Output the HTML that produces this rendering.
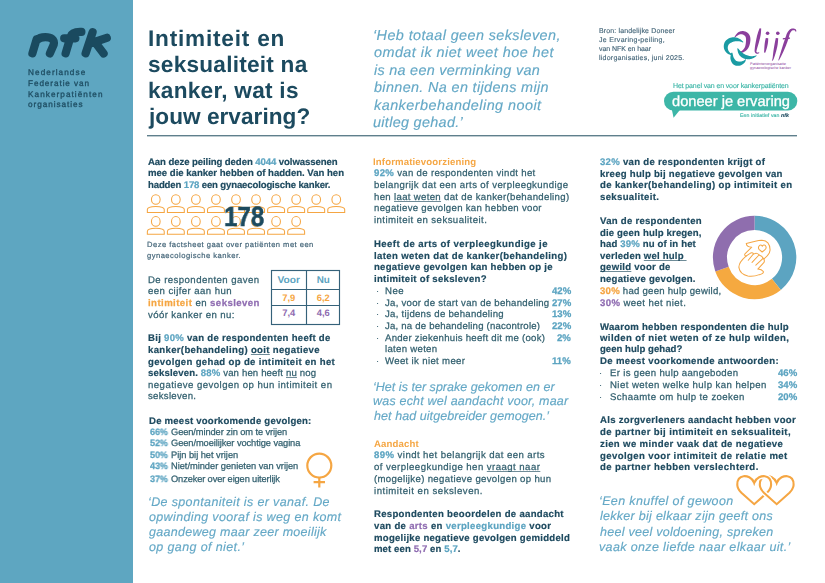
<!DOCTYPE html>
<html><head><meta charset="utf-8"><title>Intimiteit en seksualiteit na kanker</title>
<style>
html,body{margin:0;padding:0;background:#fff;}
#page{position:relative;width:825px;height:583px;overflow:hidden;background:#fff;font-family:"Liberation Sans",sans-serif;}
#gfx{position:absolute;left:0;top:0;text-rendering:geometricPrecision;}
.l{position:absolute;white-space:nowrap;font-family:"Liberation Sans",sans-serif;will-change:transform;text-rendering:geometricPrecision;}
.side{color:#1e4d62;-webkit-text-stroke-width:0.3px;}
.title{font-weight:bold;color:#1c4a5f;}
.q{font-style:italic;color:#64a8c6;-webkit-text-stroke-width:0.15px;}
.bron{color:#46677a;-webkit-text-stroke-width:0.15px;}
.teal{color:#3db6a7;-webkit-text-stroke-width:0.15px;}
.white{color:#fff;-webkit-text-stroke-width:0.3px;}
.bold{font-weight:bold;color:#1f4b60;-webkit-text-stroke-width:0.2px;}
.reg{color:#33606f;-webkit-text-stroke-width:0.25px;}
.gray{color:#46677a;-webkit-text-stroke-width:0.2px;}
.bigno{font-weight:bold;color:#1c4a5f;-webkit-text-stroke-width:0.5px;}
.pct,.pctr{font-weight:bold;color:#5ca4c1;-webkit-text-stroke-width:0.25px;}
.orange{font-weight:bold;color:#f5a643;}
.dot{color:#35606f;}
.cb{color:#5ca4c1;}
.co{color:#f5a643;}
.cp{color:#8f6cb1;}
.reg .co,.reg .cp,.reg .cb{font-weight:bold;}
.u{text-decoration:underline;text-decoration-thickness:0.7px;text-underline-offset:0.6px;text-decoration-color:#6f8c98;text-decoration-skip-ink:none;}
.rg{font-weight:normal;color:#33606f;-webkit-text-stroke-width:0.25px;}
.bd{font-weight:bold;font-style:italic;color:#1c4a5f;}

</style></head><body>
<div id="page">
<svg id="gfx" width="825" height="583" viewBox="0 0 825 583">
<rect x="0" y="0" width="133" height="583" fill="#5ea6c1"/>
<g fill="none" stroke="#1a4a5f" stroke-width="8.2" stroke-linecap="round" stroke-linejoin="round">
<path d="M32.4 53.4 L36.6 39.4 M36.8 40.2 C39 37.8 42 37.1 45.4 37.1 C51 37.1 54.8 39.4 53.7 44.6 L49.9 53.4"/>
<path d="M65.6 53.4 L70.6 36.6 C71.8 32.6 75 31.6 81.4 31.9 M64.2 38.3 L75.4 38.3"/>
<path d="M85.6 53.4 L92.6 32.2 M91.5 43 L106.8 37.8 M96.8 44.5 L103.6 53.4"/>
</g>
<rect x="147" y="135" width="650" height="1.4" fill="#5f7f8c"/>
<!--olijf-->
<path d="M734.71 37.61 L734.94 37.44 L735.22 37.22 L735.55 36.96 L735.92 36.67 L736.31 36.35 L736.72 36.03 L737.15 35.72 L737.58 35.41 L738.00 35.14 L738.39 34.91 L738.75 34.73 L739.06 34.60 L739.38 34.51 L739.71 34.42 L740.04 34.35 L740.37 34.30 L740.69 34.26 L741.00 34.25 L741.31 34.25 L741.61 34.27 L741.89 34.30 L742.16 34.35 L742.41 34.42 L742.65 34.50 L742.90 34.60 L743.17 34.73 L743.46 34.87 L743.75 35.04 L744.04 35.22 L744.31 35.42 L744.58 35.62 L744.82 35.83 L745.03 36.04 L745.21 36.24 L745.34 36.43 L745.45 36.59 L745.54 36.77 L745.63 36.98 L745.71 37.21 L745.78 37.47 L745.85 37.75 L745.90 38.06 L745.95 38.40 L745.99 38.75 L746.01 39.13 L746.03 39.53 L746.03 39.95 L746.02 40.39 L746.01 40.85 L745.98 41.36 L745.94 41.90 L745.89 42.47 L745.82 43.06 L745.75 43.64 L745.66 44.23 L745.56 44.80 L745.46 45.34 L745.34 45.85 L745.21 46.31 L745.08 46.72 L744.94 47.10 L744.76 47.48 L744.54 47.86 L744.31 48.24 L744.04 48.61 L743.77 48.97 L743.47 49.32 L743.17 49.66 L742.87 49.97 L742.57 50.27 L742.28 50.53 L742.02 50.76 L741.79 50.95 L741.55 51.10 L741.27 51.23 L740.98 51.35 L740.67 51.44 L740.36 51.52 L740.04 51.58 L739.74 51.63 L739.45 51.68 L739.19 51.72 L738.95 51.76 L738.76 51.80 L738.84 52.60 L739.00 52.61 L739.21 52.64 L739.46 52.67 L739.75 52.72 L740.08 52.76 L740.43 52.80 L740.82 52.82 L741.22 52.82 L741.65 52.79 L742.09 52.72 L742.54 52.60 L742.98 52.44 L743.39 52.25 L743.81 52.04 L744.24 51.81 L744.69 51.54 L745.14 51.25 L745.60 50.93 L746.05 50.57 L746.50 50.19 L746.94 49.77 L747.36 49.31 L747.75 48.81 L748.12 48.28 L748.44 47.71 L748.74 47.11 L749.02 46.48 L749.27 45.83 L749.49 45.16 L749.69 44.48 L749.87 43.80 L750.02 43.13 L750.15 42.46 L750.25 41.82 L750.32 41.20 L750.38 40.61 L750.41 40.05 L750.42 39.49 L750.40 38.93 L750.37 38.38 L750.31 37.83 L750.22 37.29 L750.10 36.75 L749.95 36.22 L749.76 35.70 L749.54 35.18 L749.27 34.69 L748.95 34.21 L748.58 33.74 L748.17 33.32 L747.74 32.95 L747.28 32.61 L746.81 32.31 L746.32 32.04 L745.83 31.81 L745.33 31.60 L744.83 31.43 L744.34 31.29 L743.84 31.18 L743.35 31.10 L742.86 31.06 L742.37 31.05 L741.88 31.08 L741.40 31.14 L740.93 31.23 L740.47 31.35 L740.02 31.50 L739.58 31.67 L739.15 31.87 L738.74 32.09 L738.34 32.33 L737.94 32.60 L737.52 32.92 L737.12 33.30 L736.75 33.72 L736.39 34.16 L736.04 34.61 L735.71 35.07 L735.41 35.51 L735.12 35.94 L734.86 36.33 L734.64 36.68 L734.44 36.97 L734.29 37.19 Z" fill="#8b3f9c"/>
<path d="M743.34 41.94 L743.16 41.77 L742.93 41.55 L742.66 41.28 L742.35 40.98 L742.01 40.65 L741.63 40.31 L741.23 39.95 L740.81 39.60 L740.35 39.26 L739.88 38.95 L739.37 38.66 L738.86 38.41 L738.36 38.21 L737.85 38.02 L737.32 37.85 L736.77 37.69 L736.21 37.55 L735.63 37.43 L735.03 37.34 L734.43 37.28 L733.82 37.25 L733.21 37.26 L732.59 37.30 L731.97 37.39 L731.38 37.51 L730.79 37.67 L730.20 37.86 L729.61 38.08 L729.04 38.33 L728.47 38.62 L727.92 38.93 L727.39 39.28 L726.88 39.65 L726.39 40.06 L725.93 40.50 L725.51 40.98 L725.13 41.50 L724.81 42.04 L724.54 42.60 L724.31 43.16 L724.13 43.73 L723.99 44.30 L723.88 44.87 L723.81 45.43 L723.77 45.99 L723.77 46.54 L723.79 47.08 L723.85 47.61 L723.94 48.16 L724.08 48.70 L724.26 49.23 L724.47 49.73 L724.70 50.22 L724.96 50.69 L725.24 51.13 L725.53 51.56 L725.83 51.96 L726.15 52.34 L726.47 52.70 L726.81 53.04 L727.20 53.37 L727.63 53.67 L728.07 53.93 L728.51 54.14 L728.96 54.33 L729.39 54.50 L729.81 54.64 L730.20 54.77 L730.55 54.88 L730.86 54.97 L731.11 55.05 L731.30 55.12 L731.90 54.08 L731.71 53.93 L731.47 53.76 L731.20 53.57 L730.90 53.36 L730.58 53.13 L730.26 52.89 L729.94 52.64 L729.64 52.37 L729.36 52.11 L729.12 51.85 L728.93 51.60 L728.79 51.36 L728.65 51.08 L728.50 50.76 L728.35 50.42 L728.21 50.07 L728.09 49.71 L727.98 49.34 L727.89 48.97 L727.82 48.62 L727.77 48.27 L727.74 47.95 L727.74 47.66 L727.75 47.39 L727.79 47.10 L727.84 46.78 L727.91 46.45 L728.00 46.12 L728.10 45.80 L728.21 45.48 L728.34 45.17 L728.48 44.88 L728.63 44.62 L728.78 44.39 L728.94 44.19 L729.09 44.02 L729.27 43.85 L729.49 43.66 L729.76 43.46 L730.07 43.25 L730.41 43.04 L730.77 42.83 L731.14 42.63 L731.53 42.44 L731.92 42.26 L732.30 42.09 L732.68 41.94 L733.03 41.81 L733.37 41.70 L733.73 41.60 L734.13 41.51 L734.55 41.43 L734.98 41.36 L735.44 41.30 L735.90 41.26 L736.36 41.22 L736.82 41.20 L737.28 41.19 L737.73 41.19 L738.14 41.19 L738.53 41.21 L738.95 41.26 L739.40 41.34 L739.87 41.45 L740.34 41.58 L740.82 41.72 L741.28 41.87 L741.71 42.01 L742.12 42.15 L742.48 42.28 L742.80 42.39 L743.06 42.46 Z" fill="#1a9ba3"/>
<path d="M731.20 52.83 L731.15 53.10 L731.07 53.44 L730.98 53.86 L730.87 54.33 L730.76 54.85 L730.65 55.41 L730.55 55.99 L730.47 56.59 L730.42 57.20 L730.40 57.82 L730.42 58.43 L730.50 59.02 L730.60 59.55 L730.73 60.06 L730.88 60.58 L731.06 61.09 L731.27 61.59 L731.51 62.09 L731.79 62.58 L732.09 63.05 L732.44 63.50 L732.82 63.93 L733.25 64.33 L733.73 64.71 L734.26 65.03 L734.81 65.29 L735.37 65.49 L735.92 65.64 L736.48 65.75 L737.03 65.81 L737.56 65.84 L738.09 65.84 L738.60 65.81 L739.10 65.75 L739.57 65.68 L740.05 65.58 L740.54 65.45 L741.02 65.28 L741.48 65.07 L741.90 64.84 L742.30 64.59 L742.68 64.33 L743.03 64.06 L743.36 63.79 L743.67 63.51 L743.95 63.23 L744.21 62.97 L744.46 62.70 L744.71 62.41 L744.94 62.10 L745.14 61.79 L745.31 61.47 L745.45 61.17 L745.58 60.87 L745.69 60.59 L745.78 60.33 L745.86 60.09 L745.93 59.89 L745.98 59.72 L746.04 59.58 L745.56 59.22 L745.43 59.32 L745.28 59.45 L745.12 59.60 L744.93 59.76 L744.73 59.93 L744.52 60.11 L744.30 60.28 L744.07 60.44 L743.84 60.59 L743.60 60.71 L743.38 60.81 L743.14 60.90 L742.87 60.99 L742.57 61.10 L742.25 61.20 L741.93 61.30 L741.60 61.39 L741.27 61.47 L740.94 61.53 L740.63 61.59 L740.33 61.62 L740.05 61.64 L739.80 61.64 L739.55 61.62 L739.27 61.59 L738.95 61.56 L738.61 61.52 L738.28 61.47 L737.95 61.42 L737.62 61.35 L737.32 61.28 L737.04 61.20 L736.79 61.12 L736.58 61.04 L736.40 60.97 L736.27 60.89 L736.13 60.80 L735.96 60.67 L735.77 60.51 L735.57 60.31 L735.35 60.08 L735.14 59.82 L734.92 59.54 L734.70 59.25 L734.49 58.94 L734.28 58.61 L734.08 58.29 L733.90 57.98 L733.74 57.68 L733.58 57.31 L733.43 56.88 L733.28 56.39 L733.13 55.88 L733.00 55.35 L732.88 54.83 L732.76 54.33 L732.66 53.86 L732.56 53.43 L732.48 53.06 L732.40 52.77 Z" fill="#1a9ba3"/>
<path d="M737.24 48.58 L737.29 48.85 L737.35 49.18 L737.42 49.59 L737.49 50.05 L737.58 50.54 L737.69 51.07 L737.81 51.62 L737.96 52.18 L738.13 52.73 L738.34 53.28 L738.57 53.81 L738.84 54.29 L739.12 54.73 L739.40 55.13 L739.70 55.53 L740.03 55.91 L740.37 56.27 L740.74 56.62 L741.12 56.95 L741.53 57.26 L741.95 57.55 L742.39 57.82 L742.84 58.06 L743.32 58.29 L743.82 58.49 L744.34 58.67 L744.86 58.82 L745.39 58.94 L745.93 59.04 L746.46 59.12 L746.98 59.18 L747.50 59.21 L748.00 59.24 L748.49 59.24 L748.95 59.23 L749.40 59.21 L749.85 59.18 L750.29 59.12 L750.72 59.04 L751.12 58.95 L751.50 58.84 L751.87 58.72 L752.22 58.60 L752.55 58.46 L752.87 58.32 L753.17 58.18 L753.47 58.04 L753.76 57.90 L754.08 57.73 L754.39 57.55 L754.70 57.36 L754.99 57.16 L755.28 56.96 L755.54 56.75 L755.79 56.56 L756.03 56.37 L756.24 56.20 L756.42 56.05 L756.58 55.92 L756.71 55.83 L756.49 55.37 L756.33 55.42 L756.12 55.47 L755.89 55.54 L755.63 55.61 L755.35 55.69 L755.06 55.77 L754.75 55.85 L754.44 55.92 L754.12 55.99 L753.82 56.04 L753.52 56.08 L753.24 56.10 L752.94 56.13 L752.63 56.15 L752.32 56.17 L752.01 56.19 L751.71 56.20 L751.41 56.20 L751.11 56.19 L750.81 56.18 L750.51 56.15 L750.21 56.11 L749.91 56.05 L749.60 55.99 L749.25 55.91 L748.87 55.81 L748.47 55.71 L748.07 55.60 L747.65 55.48 L747.24 55.36 L746.84 55.23 L746.44 55.09 L746.07 54.95 L745.71 54.80 L745.38 54.66 L745.08 54.51 L744.79 54.36 L744.50 54.19 L744.20 54.01 L743.91 53.82 L743.62 53.63 L743.33 53.43 L743.03 53.22 L742.74 53.01 L742.44 52.79 L742.14 52.56 L741.84 52.33 L741.56 52.11 L741.28 51.88 L740.98 51.60 L740.65 51.27 L740.31 50.90 L739.96 50.52 L739.61 50.13 L739.27 49.74 L738.95 49.36 L738.65 49.01 L738.38 48.70 L738.15 48.43 L737.96 48.22 Z" fill="#1a9ba3"/>
<path d="M759.62 28.23 L759.52 28.49 L759.39 28.81 L759.25 29.17 L759.09 29.59 L758.92 30.04 L758.74 30.52 L758.55 31.02 L758.36 31.54 L758.17 32.07 L757.99 32.61 L757.82 33.14 L757.65 33.66 L757.49 34.18 L757.34 34.72 L757.19 35.28 L757.04 35.85 L756.90 36.44 L756.77 37.03 L756.64 37.63 L756.51 38.24 L756.38 38.84 L756.26 39.45 L756.14 40.05 L756.02 40.64 L755.91 41.23 L755.79 41.84 L755.67 42.47 L755.56 43.10 L755.44 43.74 L755.33 44.37 L755.23 44.99 L755.13 45.60 L755.04 46.19 L754.96 46.75 L754.89 47.29 L754.83 47.78 L754.79 48.22 L754.75 48.64 L754.71 49.04 L754.67 49.41 L754.64 49.77 L754.62 50.12 L754.61 50.45 L754.61 50.77 L754.62 51.09 L754.65 51.39 L754.71 51.70 L754.78 52.00 L754.89 52.29 L755.04 52.57 L755.21 52.81 L755.40 53.02 L755.60 53.20 L755.82 53.35 L756.03 53.48 L756.25 53.58 L756.46 53.66 L756.67 53.72 L756.87 53.77 L757.09 53.81 L757.34 53.82 L757.60 53.79 L757.84 53.73 L758.07 53.65 L758.28 53.55 L758.49 53.45 L758.68 53.35 L758.86 53.25 L759.01 53.16 L759.15 53.08 L759.25 53.02 L759.34 52.98 L759.06 52.22 L758.95 52.25 L758.81 52.30 L758.65 52.35 L758.48 52.41 L758.30 52.47 L758.11 52.52 L757.93 52.57 L757.76 52.61 L757.60 52.63 L757.47 52.63 L757.37 52.62 L757.31 52.59 L757.22 52.55 L757.10 52.50 L756.99 52.43 L756.88 52.36 L756.78 52.28 L756.68 52.20 L756.61 52.11 L756.54 52.02 L756.49 51.92 L756.45 51.82 L756.43 51.72 L756.42 51.60 L756.41 51.46 L756.42 51.29 L756.44 51.10 L756.47 50.89 L756.52 50.65 L756.58 50.38 L756.65 50.09 L756.74 49.77 L756.83 49.43 L756.94 49.05 L757.05 48.65 L757.17 48.22 L757.29 47.77 L757.44 47.28 L757.59 46.76 L757.76 46.20 L757.94 45.63 L758.12 45.03 L758.30 44.42 L758.49 43.80 L758.67 43.18 L758.85 42.57 L759.02 41.96 L759.18 41.36 L759.33 40.78 L759.49 40.19 L759.64 39.59 L759.79 38.99 L759.94 38.39 L760.08 37.79 L760.22 37.20 L760.35 36.61 L760.47 36.02 L760.57 35.45 L760.67 34.89 L760.75 34.34 L760.82 33.80 L760.88 33.24 L760.94 32.67 L760.99 32.10 L761.03 31.55 L761.06 31.01 L761.09 30.50 L761.12 30.01 L761.14 29.57 L761.16 29.18 L761.17 28.84 L761.18 28.57 Z" fill="#8b3f9c"/>
<path d="M765.81 38.04 L765.74 38.31 L765.65 38.66 L765.54 39.06 L765.43 39.51 L765.31 40.01 L765.20 40.53 L765.09 41.07 L764.99 41.63 L764.90 42.18 L764.82 42.73 L764.75 43.27 L764.69 43.77 L764.63 44.27 L764.58 44.80 L764.53 45.34 L764.48 45.89 L764.43 46.44 L764.39 46.98 L764.36 47.52 L764.33 48.04 L764.30 48.54 L764.28 49.01 L764.26 49.43 L764.24 49.82 L764.22 50.16 L764.20 50.48 L764.18 50.77 L764.16 51.03 L764.14 51.28 L764.12 51.50 L764.10 51.70 L764.08 51.88 L764.06 52.05 L764.04 52.20 L764.03 52.34 L764.02 52.46 L765.18 52.74 L765.23 52.63 L765.28 52.52 L765.34 52.38 L765.40 52.22 L765.47 52.05 L765.55 51.85 L765.64 51.64 L765.73 51.40 L765.83 51.13 L765.94 50.84 L766.05 50.52 L766.16 50.18 L766.28 49.80 L766.41 49.38 L766.55 48.93 L766.69 48.45 L766.84 47.94 L766.98 47.42 L767.12 46.88 L767.26 46.34 L767.38 45.79 L767.50 45.26 L767.61 44.74 L767.71 44.23 L767.80 43.72 L767.89 43.17 L767.97 42.62 L768.04 42.05 L768.09 41.48 L768.13 40.92 L768.15 40.38 L768.17 39.88 L768.18 39.41 L768.18 39.00 L768.19 38.64 L768.19 38.36 Z" fill="#8b3f9c"/>
<path d="M775.81 38.03 L775.74 38.36 L775.65 38.76 L775.55 39.24 L775.43 39.77 L775.31 40.35 L775.18 40.96 L775.05 41.60 L774.92 42.25 L774.80 42.90 L774.68 43.54 L774.57 44.15 L774.47 44.74 L774.37 45.30 L774.27 45.88 L774.17 46.46 L774.07 47.05 L773.97 47.64 L773.88 48.23 L773.78 48.82 L773.69 49.41 L773.60 50.00 L773.51 50.59 L773.43 51.17 L773.35 51.74 L773.28 52.32 L773.21 52.91 L773.14 53.51 L773.07 54.12 L773.00 54.71 L772.94 55.30 L772.88 55.87 L772.82 56.42 L772.76 56.93 L772.70 57.41 L772.65 57.85 L772.59 58.23 L772.54 58.56 L772.48 58.85 L772.41 59.10 L772.35 59.32 L772.29 59.52 L772.22 59.69 L772.16 59.84 L772.10 59.97 L772.04 60.10 L771.98 60.22 L771.93 60.33 L771.89 60.44 L772.51 60.76 L772.56 60.68 L772.63 60.60 L772.70 60.51 L772.79 60.40 L772.89 60.27 L773.00 60.11 L773.12 59.94 L773.25 59.73 L773.38 59.49 L773.52 59.22 L773.66 58.92 L773.81 58.57 L773.96 58.18 L774.12 57.75 L774.28 57.28 L774.45 56.78 L774.63 56.25 L774.81 55.70 L774.99 55.13 L775.17 54.55 L775.34 53.97 L775.52 53.39 L775.68 52.82 L775.85 52.26 L776.00 51.71 L776.16 51.14 L776.32 50.57 L776.47 49.99 L776.63 49.41 L776.77 48.82 L776.92 48.23 L777.05 47.63 L777.18 47.04 L777.31 46.45 L777.42 45.85 L777.53 45.26 L777.63 44.66 L777.72 44.01 L777.80 43.35 L777.88 42.68 L777.94 42.02 L777.99 41.36 L778.04 40.73 L778.08 40.14 L778.11 39.59 L778.14 39.11 L778.17 38.70 L778.19 38.37 Z" fill="#8b3f9c"/>
<path d="M796.44 31.16 L796.41 31.09 L796.38 30.98 L796.34 30.83 L796.29 30.65 L796.23 30.45 L796.15 30.23 L796.06 30.00 L795.94 29.76 L795.78 29.53 L795.59 29.30 L795.34 29.09 L795.06 28.93 L794.78 28.82 L794.51 28.73 L794.21 28.66 L793.88 28.59 L793.54 28.54 L793.19 28.51 L792.82 28.49 L792.44 28.50 L792.05 28.54 L791.66 28.62 L791.27 28.74 L790.89 28.90 L790.53 29.09 L790.20 29.31 L789.88 29.56 L789.56 29.83 L789.26 30.11 L788.96 30.42 L788.68 30.75 L788.40 31.09 L788.13 31.44 L787.87 31.81 L787.63 32.18 L787.38 32.58 L787.15 32.99 L786.94 33.43 L786.75 33.87 L786.57 34.32 L786.41 34.77 L786.25 35.23 L786.10 35.69 L785.95 36.16 L785.79 36.63 L785.64 37.11 L785.47 37.59 L785.30 38.09 L785.10 38.63 L784.90 39.19 L784.70 39.78 L784.49 40.39 L784.28 41.01 L784.07 41.64 L783.85 42.29 L783.64 42.93 L783.43 43.58 L783.22 44.22 L783.01 44.86 L782.81 45.50 L782.61 46.13 L782.41 46.76 L782.21 47.40 L782.01 48.05 L781.81 48.69 L781.62 49.34 L781.42 49.98 L781.23 50.62 L781.04 51.26 L780.85 51.89 L780.66 52.52 L780.47 53.14 L780.28 53.77 L780.08 54.44 L779.87 55.12 L779.65 55.81 L779.44 56.50 L779.23 57.18 L779.03 57.82 L778.84 58.43 L778.67 59.00 L778.51 59.50 L778.38 59.92 L778.28 60.27 L778.92 60.53 L779.09 60.21 L779.30 59.82 L779.54 59.35 L779.81 58.83 L780.11 58.27 L780.42 57.66 L780.74 57.03 L781.07 56.39 L781.40 55.74 L781.72 55.09 L782.04 54.46 L782.33 53.86 L782.61 53.27 L782.89 52.67 L783.17 52.07 L783.45 51.46 L783.73 50.84 L784.01 50.23 L784.28 49.61 L784.55 48.98 L784.82 48.36 L785.08 47.74 L785.34 47.12 L785.59 46.50 L785.84 45.88 L786.09 45.25 L786.34 44.61 L786.58 43.97 L786.82 43.33 L787.06 42.69 L787.29 42.06 L787.51 41.44 L787.72 40.83 L787.93 40.24 L788.12 39.67 L788.30 39.11 L788.48 38.56 L788.63 38.02 L788.77 37.50 L788.90 37.00 L789.02 36.52 L789.13 36.07 L789.23 35.64 L789.34 35.24 L789.45 34.85 L789.56 34.49 L789.68 34.15 L789.82 33.82 L789.97 33.49 L790.13 33.15 L790.30 32.83 L790.47 32.51 L790.65 32.21 L790.84 31.93 L791.02 31.66 L791.21 31.42 L791.39 31.20 L791.57 31.00 L791.75 30.84 L791.91 30.70 L792.07 30.59 L792.25 30.50 L792.47 30.41 L792.70 30.34 L792.95 30.28 L793.21 30.24 L793.47 30.22 L793.73 30.21 L793.98 30.21 L794.20 30.23 L794.40 30.25 L794.54 30.27 L794.62 30.28 L794.69 30.31 L794.78 30.38 L794.88 30.47 L794.98 30.60 L795.07 30.74 L795.17 30.90 L795.25 31.06 L795.33 31.22 L795.41 31.38 L795.49 31.53 L795.56 31.64 Z" fill="#8b3f9c"/>
<path d="M782.85 39.40 L783.02 39.39 L783.25 39.39 L783.51 39.38 L783.81 39.37 L784.14 39.36 L784.48 39.34 L784.84 39.33 L785.20 39.31 L785.56 39.29 L785.92 39.26 L786.26 39.23 L786.58 39.20 L786.89 39.16 L787.23 39.11 L787.56 39.06 L787.91 39.00 L788.25 38.95 L788.58 38.89 L788.90 38.83 L789.20 38.77 L789.47 38.71 L789.71 38.67 L789.92 38.63 L790.09 38.59 L789.91 37.41 L789.74 37.42 L789.53 37.45 L789.28 37.47 L789.00 37.51 L788.70 37.54 L788.38 37.58 L788.05 37.62 L787.71 37.65 L787.38 37.69 L787.05 37.73 L786.73 37.77 L786.42 37.80 L786.12 37.84 L785.79 37.87 L785.44 37.91 L785.09 37.94 L784.73 37.98 L784.38 38.02 L784.04 38.05 L783.72 38.09 L783.42 38.12 L783.16 38.15 L782.93 38.18 L782.75 38.20 Z" fill="#8b3f9c"/>
<circle cx="767.6" cy="33.3" r="1.8" fill="#8b3f9c"/><circle cx="777.8" cy="33.3" r="1.8" fill="#8b3f9c"/>
<!--/olijf-->
<text x="750" y="65" font-family="Liberation Sans" font-size="3.6" fill="#8b3f9c" textLength="36" lengthAdjust="spacingAndGlyphs">Patiëntenorganisatie</text>
<text x="750" y="69" font-family="Liberation Sans" font-size="3.6" fill="#8b3f9c" textLength="41" lengthAdjust="spacingAndGlyphs">gynaecologische kanker</text>
<rect x="664" y="91.7" width="133.3" height="18.8" rx="9.4" fill="#3db6a7"/>
<path d="M671.5 108 L673.6 117.8 L681.5 108 Z" fill="#3db6a7"/>
<g fill="none" stroke="#f5a643" stroke-width="1.05"><ellipse cx="155.80" cy="199.5" rx="4.35" ry="4.8"/><path d="M147.35 212.4 V209.60 C147.35 206.50 151.80 206.4 155.80 206.4 C159.80 206.4 164.25 206.50 164.25 209.60 V212.4 Z"/><ellipse cx="175.85" cy="199.5" rx="4.35" ry="4.8"/><path d="M167.40 212.4 V209.60 C167.40 206.50 171.85 206.4 175.85 206.4 C179.85 206.4 184.30 206.50 184.30 209.60 V212.4 Z"/><ellipse cx="195.90" cy="199.5" rx="4.35" ry="4.8"/><path d="M187.45 212.4 V209.60 C187.45 206.50 191.90 206.4 195.90 206.4 C199.90 206.4 204.35 206.50 204.35 209.60 V212.4 Z"/><ellipse cx="215.95" cy="199.5" rx="4.35" ry="4.8"/><path d="M207.50 212.4 V209.60 C207.50 206.50 211.95 206.4 215.95 206.4 C219.95 206.4 224.40 206.50 224.40 209.60 V212.4 Z"/><ellipse cx="236.00" cy="199.5" rx="4.35" ry="4.8"/><path d="M227.55 212.4 V209.60 C227.55 206.50 232.00 206.4 236.00 206.4 C240.00 206.4 244.45 206.50 244.45 209.60 V212.4 Z"/><ellipse cx="256.05" cy="199.5" rx="4.35" ry="4.8"/><path d="M247.60 212.4 V209.60 C247.60 206.50 252.05 206.4 256.05 206.4 C260.05 206.4 264.50 206.50 264.50 209.60 V212.4 Z"/><ellipse cx="276.10" cy="199.5" rx="4.35" ry="4.8"/><path d="M267.65 212.4 V209.60 C267.65 206.50 272.10 206.4 276.10 206.4 C280.10 206.4 284.55 206.50 284.55 209.60 V212.4 Z"/><ellipse cx="296.15" cy="199.5" rx="4.35" ry="4.8"/><path d="M287.70 212.4 V209.60 C287.70 206.50 292.15 206.4 296.15 206.4 C300.15 206.4 304.60 206.50 304.60 209.60 V212.4 Z"/><ellipse cx="316.20" cy="199.5" rx="4.35" ry="4.8"/><path d="M307.75 212.4 V209.60 C307.75 206.50 312.20 206.4 316.20 206.4 C320.20 206.4 324.65 206.50 324.65 209.60 V212.4 Z"/><ellipse cx="336.25" cy="199.5" rx="4.35" ry="4.8"/><path d="M327.80 212.4 V209.60 C327.80 206.50 332.25 206.4 336.25 206.4 C340.25 206.4 344.70 206.50 344.70 209.60 V212.4 Z"/><ellipse cx="155.80" cy="221.4" rx="4.35" ry="4.8"/><path d="M147.35 234.3 V231.50 C147.35 228.40 151.80 228.3 155.80 228.3 C159.80 228.3 164.25 228.40 164.25 231.50 V234.3 Z"/><ellipse cx="175.85" cy="221.4" rx="4.35" ry="4.8"/><path d="M167.40 234.3 V231.50 C167.40 228.40 171.85 228.3 175.85 228.3 C179.85 228.3 184.30 228.40 184.30 231.50 V234.3 Z"/><ellipse cx="195.90" cy="221.4" rx="4.35" ry="4.8"/><path d="M187.45 234.3 V231.50 C187.45 228.40 191.90 228.3 195.90 228.3 C199.90 228.3 204.35 228.40 204.35 231.50 V234.3 Z"/><ellipse cx="215.95" cy="221.4" rx="4.35" ry="4.8"/><path d="M207.50 234.3 V231.50 C207.50 228.40 211.95 228.3 215.95 228.3 C219.95 228.3 224.40 228.40 224.40 231.50 V234.3 Z"/><ellipse cx="236.00" cy="221.4" rx="4.35" ry="4.8"/><path d="M227.55 234.3 V231.50 C227.55 228.40 232.00 228.3 236.00 228.3 C240.00 228.3 244.45 228.40 244.45 231.50 V234.3 Z"/><ellipse cx="256.05" cy="221.4" rx="4.35" ry="4.8"/><path d="M247.60 234.3 V231.50 C247.60 228.40 252.05 228.3 256.05 228.3 C260.05 228.3 264.50 228.40 264.50 231.50 V234.3 Z"/><ellipse cx="276.10" cy="221.4" rx="4.35" ry="4.8"/><path d="M267.65 234.3 V231.50 C267.65 228.40 272.10 228.3 276.10 228.3 C280.10 228.3 284.55 228.40 284.55 231.50 V234.3 Z"/><ellipse cx="296.15" cy="221.4" rx="4.35" ry="4.8"/><path d="M287.70 234.3 V231.50 C287.70 228.40 292.15 228.3 296.15 228.3 C300.15 228.3 304.60 228.40 304.60 231.50 V234.3 Z"/></g>
<g fill="none" stroke="#35627a" stroke-width="1.15">
<rect x="271.5" y="270.5" width="68" height="54"/>
<path d="M306.5 270.5 V324.5 M271.5 289.5 H339.5 M271.5 305.5 H339.5"/>
</g>
<g font-family="Liberation Sans" font-weight="bold" text-anchor="middle">
<text x="288.8" y="283" font-size="9.9" fill="#5ca4c1" textLength="22.4" lengthAdjust="spacingAndGlyphs">Voor</text><text x="323.3" y="283" font-size="9.9" fill="#5ca4c1">Nu</text>
<text x="288.8" y="300.6" font-size="9.4" fill="#f5a643">7,9</text><text x="323.2" y="300.6" font-size="9.4" fill="#f5a643">6,2</text>
<text x="288.8" y="315.9" font-size="9.4" fill="#8f6cb1">7,4</text><text x="323.2" y="315.9" font-size="9.4" fill="#8f6cb1">4,6</text>
</g>
<g fill="none" stroke="#f5a643" stroke-width="2.2"><circle cx="319.3" cy="465.6" r="12"/><path d="M319.3 477.5 V487.6 M313.6 482.1 H325"/></g>
<path d="M754.60 222.90 A34.6 34.6 0 0 1 776.37 284.39" fill="none" stroke="#5ca4c1" stroke-width="14.2"/>
<path d="M776.37 284.39 A34.6 34.6 0 0 1 721.98 269.05" fill="none" stroke="#f5a940" stroke-width="14.2"/>
<path d="M721.98 269.05 A34.6 34.6 0 0 1 754.60 222.90" fill="none" stroke="#8f6eae" stroke-width="14.2"/>
<g transform="translate(735 236) scale(0.07547)" fill="none" stroke="#f5a643" stroke-width="13.5" stroke-linecap="round" stroke-linejoin="round">
<path d="M150 100 C190 88 290 58 350 56 C420 56 462 105 465 185 C466 225 440 258 388 300"/>
<path d="M150 100 C150 125 165 148 222 148 L135 232 C122 246 128 262 146 266"/>
<path d="M360 212 L322 180 C298 158 318 112 350 122 C356 124 360 130 362 136 C366 128 372 122 380 120 C410 114 425 160 398 180 Z"/>
<path d="M146 266 L200 230 C215 218 240 220 244 238 L176 322"/>
<path d="M244 238 L268 232 C285 226 312 235 318 252 L226 350"/>
<path d="M318 252 C335 258 365 268 372 295 L276 386"/>
<path d="M372 295 C385 305 392 330 385 350 L302 438 C330 440 360 448 375 470 C382 490 360 505 322 512 C280 528 230 538 170 530 C110 518 62 480 52 420 C46 370 72 330 146 266"/>
</g>
<defs><clipPath id="ct"><rect x="700" y="460" width="120" height="27"/></clipPath><clipPath id="cbt"><rect x="700" y="487" width="120" height="30"/></clipPath></defs>
<path d="M754.2 483 C752.2 477.2 746.6 475.9 743.6 476.2 C739.0 476.8 737.3000000000001 480.6 737.3000000000001 484.4 C737.3000000000001 487.8 739.0 490.4 741.4000000000001 492.8 L754.2 504.2 L767.0 492.8 C769.4000000000001 490.4 771.1 487.8 771.1 484.4 C771.1 480.6 769.4000000000001 476.8 764.8000000000001 476.2 C761.8000000000001 475.9 756.2 477.2 754.2 483 Z" fill="none" stroke="#f5a643" stroke-width="2.1"/>
<path d="M776.7 483 C774.7 477.2 769.1 475.9 766.1 476.2 C761.5 476.8 759.8000000000001 480.6 759.8000000000001 484.4 C759.8000000000001 487.8 761.5 490.4 763.9000000000001 492.8 L776.7 504.2 L789.5 492.8 C791.9000000000001 490.4 793.6 487.8 793.6 484.4 C793.6 480.6 791.9000000000001 476.8 787.3000000000001 476.2 C784.3000000000001 475.9 778.7 477.2 776.7 483 Z" fill="none" stroke="#f5a643" stroke-width="2.1" clip-path="url(#ct)"/>
<path d="M754.2 483 C752.2 477.2 746.6 475.9 743.6 476.2 C739.0 476.8 737.3000000000001 480.6 737.3000000000001 484.4 C737.3000000000001 487.8 739.0 490.4 741.4000000000001 492.8 L754.2 504.2 L767.0 492.8 C769.4000000000001 490.4 771.1 487.8 771.1 484.4 C771.1 480.6 769.4000000000001 476.8 764.8000000000001 476.2 C761.8000000000001 475.9 756.2 477.2 754.2 483 Z" fill="none" stroke="#fff" stroke-width="5" clip-path="url(#ct)"/>
<path d="M754.2 483 C752.2 477.2 746.6 475.9 743.6 476.2 C739.0 476.8 737.3000000000001 480.6 737.3000000000001 484.4 C737.3000000000001 487.8 739.0 490.4 741.4000000000001 492.8 L754.2 504.2 L767.0 492.8 C769.4000000000001 490.4 771.1 487.8 771.1 484.4 C771.1 480.6 769.4000000000001 476.8 764.8000000000001 476.2 C761.8000000000001 475.9 756.2 477.2 754.2 483 Z" fill="none" stroke="#f5a643" stroke-width="2.1" clip-path="url(#ct)"/>
<path d="M776.7 483 C774.7 477.2 769.1 475.9 766.1 476.2 C761.5 476.8 759.8000000000001 480.6 759.8000000000001 484.4 C759.8000000000001 487.8 761.5 490.4 763.9000000000001 492.8 L776.7 504.2 L789.5 492.8 C791.9000000000001 490.4 793.6 487.8 793.6 484.4 C793.6 480.6 791.9000000000001 476.8 787.3000000000001 476.2 C784.3000000000001 475.9 778.7 477.2 776.7 483 Z" fill="none" stroke="#fff" stroke-width="5" clip-path="url(#cbt)"/>
<path d="M776.7 483 C774.7 477.2 769.1 475.9 766.1 476.2 C761.5 476.8 759.8000000000001 480.6 759.8000000000001 484.4 C759.8000000000001 487.8 761.5 490.4 763.9000000000001 492.8 L776.7 504.2 L789.5 492.8 C791.9000000000001 490.4 793.6 487.8 793.6 484.4 C793.6 480.6 791.9000000000001 476.8 787.3000000000001 476.2 C784.3000000000001 475.9 778.7 477.2 776.7 483 Z" fill="none" stroke="#f5a643" stroke-width="2.1" clip-path="url(#cbt)"/>
</svg>
<div class="l side" id="l0" style="left:28.00px;transform-origin:left;top:69.00px;font-size:8.2px;line-height:8.2px;letter-spacing:1.080px;">Nederlandse</div>
<div class="l side" id="l1" style="left:28.00px;transform-origin:left;top:80.00px;font-size:8.2px;line-height:8.2px;letter-spacing:0.917px;">Federatie van</div>
<div class="l side" id="l2" style="left:28.00px;transform-origin:left;top:91.01px;font-size:8.2px;line-height:8.2px;letter-spacing:1.057px;">Kankerpatiënten</div>
<div class="l side" id="l3" style="left:28.00px;transform-origin:left;top:101.00px;font-size:8.2px;line-height:8.2px;letter-spacing:0.955px;">organisaties</div>
<div class="l title" id="l4" style="left:147.50px;transform-origin:left;top:28.01px;font-size:22.6px;line-height:22.6px;letter-spacing:0.792px;">Intimiteit en</div>
<div class="l title" id="l5" style="left:147.50px;transform-origin:left;top:54.00px;font-size:22.6px;line-height:22.6px;letter-spacing:0.250px;">seksualiteit na</div>
<div class="l title" id="l6" style="left:147.50px;transform-origin:left;top:80.00px;font-size:22.6px;line-height:22.6px;letter-spacing:0.269px;">kanker, wat is</div>
<div class="l title" id="l7" style="left:148.50px;transform-origin:left;top:106.00px;font-size:22.6px;line-height:22.6px;letter-spacing:0.038px;">jouw ervaring?</div>
<div class="l q" id="l8" style="left:372.90px;transform-origin:left;top:29.01px;font-size:14.4px;line-height:14.4px;letter-spacing:0.408px;">‘Heb totaal geen seksleven,</div>
<div class="l q" id="l9" style="left:373.90px;transform-origin:left;top:46.01px;font-size:14.4px;line-height:14.4px;letter-spacing:0.460px;">omdat ik niet weet hoe het</div>
<div class="l q" id="l10" style="left:373.90px;transform-origin:left;top:64.01px;font-size:14.4px;line-height:14.4px;letter-spacing:0.283px;">is na een verminking van</div>
<div class="l q" id="l11" style="left:373.90px;transform-origin:left;top:81.01px;font-size:14.4px;line-height:14.4px;letter-spacing:0.356px;">binnen. Na en tijdens mijn</div>
<div class="l q" id="l12" style="left:373.90px;transform-origin:left;top:99.00px;font-size:14.4px;line-height:14.4px;letter-spacing:0.468px;">kankerbehandeling nooit</div>
<div class="l q" id="l13" style="left:372.90px;transform-origin:left;top:116.01px;font-size:14.4px;line-height:14.4px;letter-spacing:0.315px;">uitleg gehad.’</div>
<div class="l bron" id="l14" style="left:599.20px;transform-origin:left;top:28.01px;font-size:7px;line-height:7px;letter-spacing:0.141px;">Bron: landelijke Doneer</div>
<div class="l bron" id="l15" style="left:599.20px;transform-origin:left;top:37.01px;font-size:7px;line-height:7px;letter-spacing:0.300px;">Je Ervaring-peiling,</div>
<div class="l bron" id="l16" style="left:599.20px;transform-origin:left;top:46.02px;font-size:7px;line-height:7px;letter-spacing:-0.064px;">van NFK en haar</div>
<div class="l bron" id="l17" style="left:599.20px;transform-origin:left;top:55.02px;font-size:7px;line-height:7px;letter-spacing:0.242px;">lidorganisaties, juni 2025.</div>
<div class="l teal" id="l18" style="left:672.70px;transform-origin:left;top:83.02px;font-size:7px;line-height:7px;letter-spacing:-0.125px;">Het panel van en voor kankerpatiënten</div>
<div class="l white" id="l19" style="left:672.40px;transform-origin:left;top:95.01px;font-size:14.5px;line-height:14.5px;transform:scaleX(1.0095);">doneer je ervaring</div>
<div class="l teal" id="l20" style="left:740.00px;transform-origin:left;top:114.00px;font-size:5.2px;line-height:5.2px;letter-spacing:0.081px;">Een initiatief van <span class="bd">nfk</span></div>
<div class="l bold" id="l21" style="left:148.00px;transform-origin:left;top:158.01px;font-size:9.6px;line-height:9.6px;letter-spacing:-0.089px;">Aan deze peiling deden <span class="cb">4044</span> volwassenen</div>
<div class="l bold" id="l22" style="left:148.00px;transform-origin:left;top:169.01px;font-size:9.6px;line-height:9.6px;letter-spacing:-0.018px;">mee die kanker hebben of hadden. Van hen</div>
<div class="l bold" id="l23" style="left:148.00px;transform-origin:left;top:181.00px;font-size:9.6px;line-height:9.6px;letter-spacing:-0.154px;">hadden <span class="cb">178</span> een gynaecologische kanker.</div>
<div class="l bigno" id="l24" style="left:224.33px;transform-origin:left;top:203.00px;font-size:27.8px;line-height:27.8px;transform:scaleX(0.8667);">178</div>
<div class="l gray" id="l25" style="left:146.70px;transform-origin:left;top:241.00px;font-size:7.6px;line-height:7.6px;letter-spacing:0.463px;">Deze factsheet gaat over patiënten met een</div>
<div class="l gray" id="l26" style="left:146.70px;transform-origin:left;top:252.00px;font-size:7.6px;line-height:7.6px;letter-spacing:0.473px;">gynaecologische kanker.</div>
<div class="l reg" id="l27" style="left:147.80px;transform-origin:left;top:276.02px;font-size:9.6px;line-height:9.6px;letter-spacing:0.430px;">De respondenten gaven</div>
<div class="l reg" id="l28" style="left:147.80px;transform-origin:left;top:287.01px;font-size:9.6px;line-height:9.6px;letter-spacing:0.429px;">een cijfer aan hun</div>
<div class="l reg" id="l29" style="left:147.80px;transform-origin:left;top:299.01px;font-size:9.6px;line-height:9.6px;letter-spacing:0.436px;"><span class="co">intimiteit</span> en <span class="cp">seksleven</span></div>
<div class="l reg" id="l30" style="left:147.80px;transform-origin:left;top:311.01px;font-size:9.6px;line-height:9.6px;letter-spacing:0.406px;">vóór kanker en nu:</div>
<div class="l bold" id="l31" style="left:147.80px;transform-origin:left;top:334.02px;font-size:9.6px;line-height:9.6px;letter-spacing:0.274px;">Bij <span class="cb">90%</span> van de respondenten heeft de</div>
<div class="l bold" id="l32" style="left:147.80px;transform-origin:left;top:346.01px;font-size:9.6px;line-height:9.6px;letter-spacing:0.321px;">kanker(behandeling) <span class="u">ooit</span> negatieve</div>
<div class="l bold" id="l33" style="left:147.80px;transform-origin:left;top:358.01px;font-size:9.6px;line-height:9.6px;letter-spacing:0.322px;">gevolgen gehad op de intimiteit en het</div>
<div class="l bold" id="l34" style="left:147.80px;transform-origin:left;top:369.01px;font-size:9.6px;line-height:9.6px;letter-spacing:0.141px;">seksleven. <span class="cb">88%</span> <span class="rg">van hen heeft <span class="u">nu</span> nog</span></div>
<div class="l reg" id="l35" style="left:147.80px;transform-origin:left;top:381.01px;font-size:9.6px;line-height:9.6px;letter-spacing:0.463px;">negatieve gevolgen op hun intimiteit en</div>
<div class="l reg" id="l36" style="left:147.80px;transform-origin:left;top:392.02px;font-size:9.6px;line-height:9.6px;letter-spacing:0.300px;">seksleven.</div>
<div class="l bold" id="l37" style="left:148.90px;transform-origin:left;top:417.02px;font-size:9.6px;line-height:9.6px;letter-spacing:0.210px;">De meest voorkomende gevolgen:</div>
<div class="l pct" id="l38" style="left:150.30px;transform-origin:left;top:428.01px;font-size:9.3px;line-height:9.3px;transform:scaleX(0.9611);">66%</div>
<div class="l reg" id="l39" style="left:170.70px;transform-origin:left;top:428.01px;font-size:9.3px;line-height:9.3px;letter-spacing:-0.096px;">Geen/minder zin om te vrijen</div>
<div class="l pct" id="l40" style="left:150.30px;transform-origin:left;top:439.00px;font-size:9.3px;line-height:9.3px;transform:scaleX(0.9611);">52%</div>
<div class="l reg" id="l41" style="left:170.70px;transform-origin:left;top:439.00px;font-size:9.3px;line-height:9.3px;letter-spacing:-0.080px;">Geen/moeilijker vochtige vagina</div>
<div class="l pct" id="l42" style="left:150.30px;transform-origin:left;top:451.01px;font-size:9.3px;line-height:9.3px;transform:scaleX(0.9611);">50%</div>
<div class="l reg" id="l43" style="left:170.70px;transform-origin:left;top:451.01px;font-size:9.3px;line-height:9.3px;letter-spacing:-0.028px;">Pijn bij het vrijen</div>
<div class="l pct" id="l44" style="left:150.30px;transform-origin:left;top:462.01px;font-size:9.3px;line-height:9.3px;transform:scaleX(0.9611);">43%</div>
<div class="l reg" id="l45" style="left:170.70px;transform-origin:left;top:462.01px;font-size:9.3px;line-height:9.3px;letter-spacing:-0.030px;">Niet/minder genieten van vrijen</div>
<div class="l pct" id="l46" style="left:150.30px;transform-origin:left;top:475.01px;font-size:9.3px;line-height:9.3px;transform:scaleX(0.9611);">37%</div>
<div class="l reg" id="l47" style="left:170.70px;transform-origin:left;top:475.01px;font-size:9.3px;line-height:9.3px;letter-spacing:-0.137px;">Onzeker over eigen uiterlijk</div>
<div class="l q" id="l48" style="left:148.30px;transform-origin:left;top:496.01px;font-size:12.5px;line-height:12.5px;letter-spacing:0.365px;">‘De spontaniteit is er vanaf. De</div>
<div class="l q" id="l49" style="left:149.30px;transform-origin:left;top:511.00px;font-size:12.5px;line-height:12.5px;letter-spacing:0.357px;">opwinding vooraf is weg en komt</div>
<div class="l q" id="l50" style="left:149.30px;transform-origin:left;top:526.01px;font-size:12.5px;line-height:12.5px;letter-spacing:0.289px;">gaandeweg maar zeer moeilijk</div>
<div class="l q" id="l51" style="left:149.30px;transform-origin:left;top:541.01px;font-size:12.5px;line-height:12.5px;letter-spacing:0.381px;">op gang of niet.’</div>
<div class="l orange" id="l52" style="left:372.80px;transform-origin:left;top:158.01px;font-size:9.6px;line-height:9.6px;letter-spacing:0.145px;">Informatievoorziening</div>
<div class="l reg" id="l53" style="left:373.80px;transform-origin:left;top:169.00px;font-size:9.6px;line-height:9.6px;letter-spacing:0.322px;"><span class="cb">92%</span> van de respondenten vindt het</div>
<div class="l reg" id="l54" style="left:373.80px;transform-origin:left;top:181.02px;font-size:9.6px;line-height:9.6px;letter-spacing:0.388px;">belangrijk dat een arts of verpleegkundige</div>
<div class="l reg" id="l55" style="left:373.80px;transform-origin:left;top:193.02px;font-size:9.6px;line-height:9.6px;letter-spacing:0.330px;">hen <span class="u">laat weten</span> dat de kanker(behandeling)</div>
<div class="l reg" id="l56" style="left:373.80px;transform-origin:left;top:204.02px;font-size:9.6px;line-height:9.6px;letter-spacing:0.309px;">negatieve gevolgen kan hebben voor</div>
<div class="l reg" id="l57" style="left:373.80px;transform-origin:left;top:216.01px;font-size:9.6px;line-height:9.6px;letter-spacing:0.442px;">intimiteit en seksualiteit.</div>
<div class="l bold" id="l58" style="left:373.80px;transform-origin:left;top:240.01px;font-size:9.6px;line-height:9.6px;letter-spacing:0.415px;">Heeft de arts of verpleegkundige je</div>
<div class="l bold" id="l59" style="left:373.80px;transform-origin:left;top:252.02px;font-size:9.6px;line-height:9.6px;letter-spacing:0.357px;">laten weten dat de kanker(behandeling)</div>
<div class="l bold" id="l60" style="left:373.80px;transform-origin:left;top:263.01px;font-size:9.6px;line-height:9.6px;letter-spacing:0.247px;">negatieve gevolgen kan hebben op je</div>
<div class="l bold" id="l61" style="left:373.80px;transform-origin:left;top:275.01px;font-size:9.6px;line-height:9.6px;letter-spacing:0.283px;">intimiteit of seksleven?</div>
<div class="l dot" id="l62" style="left:376.20px;transform-origin:left;top:287.01px;font-size:9.6px;line-height:9.6px;">·</div>
<div class="l reg" id="l63" style="left:385.00px;transform-origin:left;top:287.01px;font-size:9.6px;line-height:9.6px;letter-spacing:0.450px;">Nee</div>
<div class="l pctr" id="l64" style="right:254.10px;transform-origin:right;top:287.01px;font-size:9.6px;line-height:9.6px;">42%</div>
<div class="l dot" id="l65" style="left:376.20px;transform-origin:left;top:299.01px;font-size:9.6px;line-height:9.6px;">·</div>
<div class="l reg" id="l66" style="left:385.00px;transform-origin:left;top:299.01px;font-size:9.6px;line-height:9.6px;letter-spacing:0.257px;">Ja, voor de start van de behandeling</div>
<div class="l pctr" id="l67" style="right:254.10px;transform-origin:right;top:299.01px;font-size:9.6px;line-height:9.6px;">27%</div>
<div class="l dot" id="l68" style="left:376.20px;transform-origin:left;top:310.01px;font-size:9.6px;line-height:9.6px;">·</div>
<div class="l reg" id="l69" style="left:385.00px;transform-origin:left;top:310.01px;font-size:9.6px;line-height:9.6px;letter-spacing:0.284px;">Ja, tijdens de behandeling</div>
<div class="l pctr" id="l70" style="right:254.10px;transform-origin:right;top:310.01px;font-size:9.6px;line-height:9.6px;">13%</div>
<div class="l dot" id="l71" style="left:376.20px;transform-origin:left;top:322.01px;font-size:9.6px;line-height:9.6px;">·</div>
<div class="l reg" id="l72" style="left:385.00px;transform-origin:left;top:322.01px;font-size:9.6px;line-height:9.6px;letter-spacing:0.203px;">Ja, na de behandeling (nacontrole)</div>
<div class="l pctr" id="l73" style="right:254.10px;transform-origin:right;top:322.01px;font-size:9.6px;line-height:9.6px;">22%</div>
<div class="l dot" id="l74" style="left:376.20px;transform-origin:left;top:334.01px;font-size:9.6px;line-height:9.6px;">·</div>
<div class="l reg" id="l75" style="left:385.00px;transform-origin:left;top:334.01px;font-size:9.6px;line-height:9.6px;letter-spacing:0.265px;">Ander ziekenhuis heeft dit me (ook)</div>
<div class="l pctr" id="l76" style="right:254.10px;transform-origin:right;top:334.01px;font-size:9.6px;line-height:9.6px;">2%</div>
<div class="l reg" id="l77" style="left:385.00px;transform-origin:left;top:345.00px;font-size:9.6px;line-height:9.6px;letter-spacing:0.300px;">laten weten</div>
<div class="l dot" id="l78" style="left:376.20px;transform-origin:left;top:357.02px;font-size:9.6px;line-height:9.6px;">·</div>
<div class="l reg" id="l79" style="left:385.00px;transform-origin:left;top:357.02px;font-size:9.6px;line-height:9.6px;letter-spacing:0.344px;">Weet ik niet meer</div>
<div class="l pctr" id="l80" style="right:254.10px;transform-origin:right;top:357.02px;font-size:9.6px;line-height:9.6px;">11%</div>
<div class="l q" id="l81" style="left:373.00px;transform-origin:left;top:381.00px;font-size:12.5px;line-height:12.5px;letter-spacing:0.029px;">‘Het is ter sprake gekomen en er</div>
<div class="l q" id="l82" style="left:373.00px;transform-origin:left;top:395.01px;font-size:12.5px;line-height:12.5px;letter-spacing:0.200px;">was echt wel aandacht voor, maar</div>
<div class="l q" id="l83" style="left:374.00px;transform-origin:left;top:410.01px;font-size:12.5px;line-height:12.5px;letter-spacing:0.069px;">het had uitgebreider gemogen.’</div>
<div class="l orange" id="l84" style="left:373.80px;transform-origin:left;top:440.01px;font-size:9.6px;line-height:9.6px;letter-spacing:0.157px;">Aandacht</div>
<div class="l reg" id="l85" style="left:373.80px;transform-origin:left;top:451.01px;font-size:9.6px;line-height:9.6px;letter-spacing:0.428px;"><span class="cb">89%</span> vindt het belangrijk dat een arts</div>
<div class="l reg" id="l86" style="left:373.80px;transform-origin:left;top:463.01px;font-size:9.6px;line-height:9.6px;letter-spacing:0.452px;">of verpleegkundige hen <span class="u">vraagt naar</span></div>
<div class="l reg" id="l87" style="left:373.80px;transform-origin:left;top:475.01px;font-size:9.6px;line-height:9.6px;letter-spacing:0.342px;">(mogelijke) negatieve gevolgen op hun</div>
<div class="l reg" id="l88" style="left:373.80px;transform-origin:left;top:487.01px;font-size:9.6px;line-height:9.6px;letter-spacing:0.522px;">intimiteit en seksleven.</div>
<div class="l bold" id="l89" style="left:373.80px;transform-origin:left;top:510.01px;font-size:9.6px;line-height:9.6px;letter-spacing:0.291px;">Respondenten beoordelen de aandacht</div>
<div class="l bold" id="l90" style="left:373.80px;transform-origin:left;top:522.01px;font-size:9.6px;line-height:9.6px;letter-spacing:0.297px;">van de <span class="cp">arts</span> en <span class="cb">verpleegkundige</span> voor</div>
<div class="l bold" id="l91" style="left:373.80px;transform-origin:left;top:534.01px;font-size:9.6px;line-height:9.6px;letter-spacing:0.249px;">mogelijke negatieve gevolgen gemiddeld</div>
<div class="l bold" id="l92" style="left:373.80px;transform-origin:left;top:545.00px;font-size:9.6px;line-height:9.6px;letter-spacing:0.094px;">met een <span class="cp">5,7</span> en <span class="cb">5,7</span>.</div>
<div class="l bold" id="l93" style="left:599.80px;transform-origin:left;top:158.01px;font-size:9.6px;line-height:9.6px;letter-spacing:0.272px;"><span class="cb">32%</span> van de respondenten krijgt of</div>
<div class="l bold" id="l94" style="left:599.80px;transform-origin:left;top:170.01px;font-size:9.6px;line-height:9.6px;letter-spacing:0.256px;">kreeg hulp bij negatieve gevolgen van</div>
<div class="l bold" id="l95" style="left:599.80px;transform-origin:left;top:181.01px;font-size:9.6px;line-height:9.6px;letter-spacing:0.355px;">de kanker(behandeling) op intimiteit en</div>
<div class="l bold" id="l96" style="left:599.80px;transform-origin:left;top:193.02px;font-size:9.6px;line-height:9.6px;letter-spacing:0.333px;">seksualiteit.</div>
<div class="l bold" id="l97" style="left:599.80px;transform-origin:left;top:217.02px;font-size:9.6px;line-height:9.6px;letter-spacing:0.261px;">Van de respondenten</div>
<div class="l bold" id="l98" style="left:599.80px;transform-origin:left;top:229.02px;font-size:9.6px;line-height:9.6px;letter-spacing:0.145px;">die geen hulp kregen,</div>
<div class="l bold" id="l99" style="left:599.80px;transform-origin:left;top:240.02px;font-size:9.6px;line-height:9.6px;letter-spacing:0.132px;">had <span class="cb">39%</span> nu of in het</div>
<div class="l bold" id="l100" style="left:599.80px;transform-origin:left;top:252.01px;font-size:9.6px;line-height:9.6px;letter-spacing:0.188px;">verleden <span class="u">wel hulp </span></div>
<div class="l bold" id="l101" style="left:599.80px;transform-origin:left;top:263.01px;font-size:9.6px;line-height:9.6px;letter-spacing:0.246px;"><span class="u">gewild</span> voor de</div>
<div class="l bold" id="l102" style="left:599.80px;transform-origin:left;top:275.01px;font-size:9.6px;line-height:9.6px;letter-spacing:0.206px;">negatieve gevolgen.</div>
<div class="l reg" id="l103" style="left:599.80px;transform-origin:left;top:287.01px;font-size:9.6px;line-height:9.6px;letter-spacing:0.246px;"><span class="co">30%</span> had geen hulp gewild,</div>
<div class="l reg" id="l104" style="left:599.80px;transform-origin:left;top:299.01px;font-size:9.6px;line-height:9.6px;letter-spacing:0.406px;"><span class="cp">30%</span> weet het niet.</div>
<div class="l bold" id="l105" style="left:599.80px;transform-origin:left;top:323.01px;font-size:9.6px;line-height:9.6px;letter-spacing:0.262px;">Waarom hebben respondenten die hulp</div>
<div class="l bold" id="l106" style="left:599.80px;transform-origin:left;top:334.01px;font-size:9.6px;line-height:9.6px;letter-spacing:0.397px;">wilden of niet weten of ze hulp wilden,</div>
<div class="l bold" id="l107" style="left:599.80px;transform-origin:left;top:345.00px;font-size:9.6px;line-height:9.6px;letter-spacing:0.013px;">geen hulp gehad?</div>
<div class="l bold" id="l108" style="left:599.80px;transform-origin:left;top:357.02px;font-size:9.6px;line-height:9.6px;letter-spacing:0.329px;">De meest voorkomende antwoorden:</div>
<div class="l dot" id="l109" style="left:599.30px;transform-origin:left;top:369.02px;font-size:9.6px;line-height:9.6px;">·</div>
<div class="l reg" id="l110" style="left:610.00px;transform-origin:left;top:369.02px;font-size:9.6px;line-height:9.6px;letter-spacing:0.320px;">Er is geen hulp aangeboden</div>
<div class="l pctr" id="l111" style="right:27.50px;transform-origin:right;top:369.02px;font-size:9.6px;line-height:9.6px;">46%</div>
<div class="l dot" id="l112" style="left:599.30px;transform-origin:left;top:381.02px;font-size:9.6px;line-height:9.6px;">·</div>
<div class="l reg" id="l113" style="left:610.00px;transform-origin:left;top:381.02px;font-size:9.6px;line-height:9.6px;letter-spacing:0.435px;">Niet weten welke hulp kan helpen</div>
<div class="l pctr" id="l114" style="right:27.50px;transform-origin:right;top:381.02px;font-size:9.6px;line-height:9.6px;">34%</div>
<div class="l dot" id="l115" style="left:599.30px;transform-origin:left;top:393.02px;font-size:9.6px;line-height:9.6px;">·</div>
<div class="l reg" id="l116" style="left:610.00px;transform-origin:left;top:393.02px;font-size:9.6px;line-height:9.6px;letter-spacing:0.404px;">Schaamte om hulp te zoeken</div>
<div class="l pctr" id="l117" style="right:27.50px;transform-origin:right;top:393.02px;font-size:9.6px;line-height:9.6px;">20%</div>
<div class="l bold" id="l118" style="left:599.80px;transform-origin:left;top:416.00px;font-size:9.6px;line-height:9.6px;letter-spacing:0.273px;">Als zorgverleners aandacht hebben voor</div>
<div class="l bold" id="l119" style="left:599.80px;transform-origin:left;top:428.01px;font-size:9.6px;line-height:9.6px;letter-spacing:0.383px;">de partner bij intimiteit en seksualiteit,</div>
<div class="l bold" id="l120" style="left:599.80px;transform-origin:left;top:440.01px;font-size:9.6px;line-height:9.6px;letter-spacing:0.349px;">zien we minder vaak dat de negatieve</div>
<div class="l bold" id="l121" style="left:599.80px;transform-origin:left;top:452.02px;font-size:9.6px;line-height:9.6px;letter-spacing:0.382px;">gevolgen voor intimiteit de relatie met</div>
<div class="l bold" id="l122" style="left:599.80px;transform-origin:left;top:463.01px;font-size:9.6px;line-height:9.6px;letter-spacing:0.407px;">de partner hebben verslechterd.</div>
<div class="l q" id="l123" style="left:599.00px;transform-origin:left;top:495.01px;font-size:12.5px;line-height:12.5px;letter-spacing:0.367px;">‘Een knuffel of gewoon</div>
<div class="l q" id="l124" style="left:600.00px;transform-origin:left;top:510.00px;font-size:12.5px;line-height:12.5px;letter-spacing:0.281px;">lekker bij elkaar zijn geeft ons</div>
<div class="l q" id="l125" style="left:600.00px;transform-origin:left;top:526.00px;font-size:12.5px;line-height:12.5px;letter-spacing:0.275px;">heel veel voldoening, spreken</div>
<div class="l q" id="l126" style="left:599.00px;transform-origin:left;top:541.01px;font-size:12.5px;line-height:12.5px;letter-spacing:0.364px;">vaak onze liefde naar elkaar uit.’</div>
</div>
</body></html>
